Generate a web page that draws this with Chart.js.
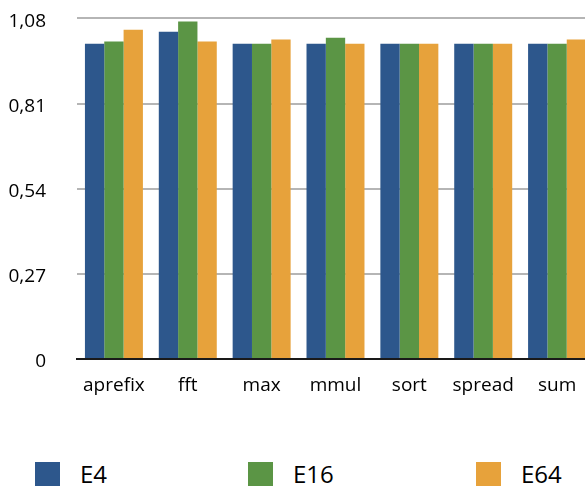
<!DOCTYPE html>
<html>
<head>
<meta charset="utf-8">
<script src="https://cdn.jsdelivr.net/npm/chart.js@4.4.1/dist/chart.umd.min.js"></script>
<style>
  html, body { margin: 0; padding: 0; background: #fff; overflow: hidden; }
  #wrap { position: relative; width: 585px; height: 486px; overflow: hidden; }
  #canvas { position: absolute; left: 0; top: -24px; }
  .lg-box { position: absolute; top: 462px; width: 25px; height: 24px; }
  .lg-txt { position: absolute; top: 461px; height: 26px; line-height: 26px;
            font-family: "Open Sans", sans-serif; font-size: 24px; color: #000; }
</style>
</head>
<body>
<div id="wrap">
  <canvas id="canvas" width="594" height="433"></canvas>
  <div id="legend"></div>
</div>
<script>
const labels      = ["aprefix", "fft", "max", "mmul", "sort", "spread", "sum"];
const seriesNames = ["E4", "E16", "E64"];
const e4  = [1.00, 1.038, 1.00, 1.00, 1.00, 1.00, 1.00];
const e16 = [1.007, 1.07, 1.00, 1.019, 1.00, 1.00, 1.00];
const e64 = [1.044, 1.007, 1.013, 1.00, 1.00, 1.00, 1.013];
const yTicks      = [0, 0.27, 0.54, 0.81, 1.08];
const yTickLabels = ["0", "0,27", "0,54", "0,81", "1,08"];

const colors  = ["#2d578c", "#5b9545", "#e7a23b"];
const values  = [e4, e16, e64];
const legendX = [35, 248, 476];

const legend = document.querySelector("#legend");
seriesNames.forEach((name, i) => {
    let box = document.createElement("div");
    box.className = "lg-box";
    box.style.left = legendX[i] + "px";
    box.style.background = colors[i];
    let txt = document.createElement("div");
    txt.className = "lg-txt";
    txt.style.left = (legendX[i] + 45) + "px";
    txt.textContent = name;
    legend.appendChild(box);
    legend.appendChild(txt);
});

const font = { family: "'Open Sans', sans-serif", size: 19 };

new Chart(document.querySelector("#canvas").getContext("2d"), {
    type: "bar",
    data: {
        labels: labels,
        datasets: seriesNames.map((name, i) => ({
            label: name,
            data: values[i],
            backgroundColor: colors[i],
            borderWidth: 0,
            categoryPercentage: 0.785,
            barPercentage: 1
        }))
    },
    options: {
        responsive: false,
        animation: false,
        layout: { padding: { top: 0, left: 0, right: 0, bottom: 0 } },
        plugins: {
            legend: { display: false },
            tooltip: { enabled: false }
        },
        scales: {
            x: {
                grid: { display: false, drawTicks: false },
                border: { display: true, color: "#1a1a1a", width: 2 },
                ticks: { color: "#000", font: font, padding: 15, maxRotation: 0 },
                afterFit: (axis) => { axis.height = 50; }
            },
            y: {
                min: 0,
                max: 1.08,
                afterBuildTicks: (axis) => { axis.ticks = yTicks.map(v => ({ value: v })); },
                grid: { color: "#b5b5b5", lineWidth: 2, drawTicks: false },
                border: { display: false },
                ticks: {
                    color: "#000",
                    font: font,
                    padding: 31,
                    labelOffset: 3,
                    callback: (v, i) => yTickLabels[i]
                },
                afterFit: (axis) => { axis.width = 77; }
            }
        }
    }
});
</script>
</body>
</html>
